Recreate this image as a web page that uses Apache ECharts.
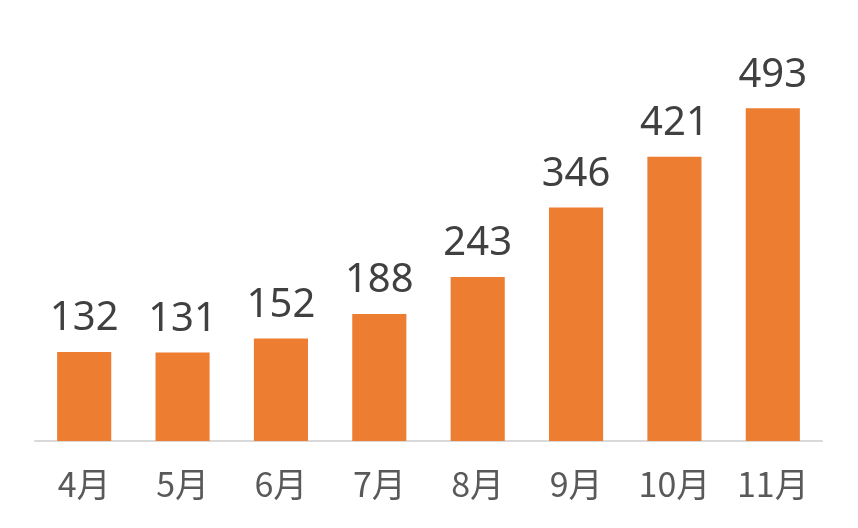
<!DOCTYPE html>
<html><head><meta charset="utf-8">
<script src="https://cdn.jsdelivr.net/npm/echarts@6/dist/echarts.min.js"></script>
<style>html,body{margin:0;padding:0;background:#fff}#c{width:858px;height:528px}</style>
</head><body><div id="c"></div>
<script>
const categories = ['4月','5月','6月','7月','8月','9月','10月','11月'];
const values = [132,131,152,188,243,346,421,493];
const chart = echarts.init(document.getElementById('c'));
chart.setOption({
  animation:false,
  grid:{left:35,right:36,top:36,bottom:87},
  xAxis:{type:'category',data:categories,
    axisLine:{lineStyle:{color:'#d9d9d9',width:2}},
    axisTick:{show:false},
    axisLabel:{color:'#595959',fontSize:34,margin:26,fontFamily:'"Noto Sans CJK JP", "Noto Sans", sans-serif'}},
  yAxis:{type:'value',min:0,max:600,show:false,splitLine:{show:false}},
  series:[{type:'bar',data:values,barWidth:'55%',
    itemStyle:{color:'#ED7D31'},
    label:{show:true,position:'top',distance:13,color:'#404040',fontSize:40,
      fontFamily:'"Noto Sans", sans-serif'}}]
});
</script></body></html>
